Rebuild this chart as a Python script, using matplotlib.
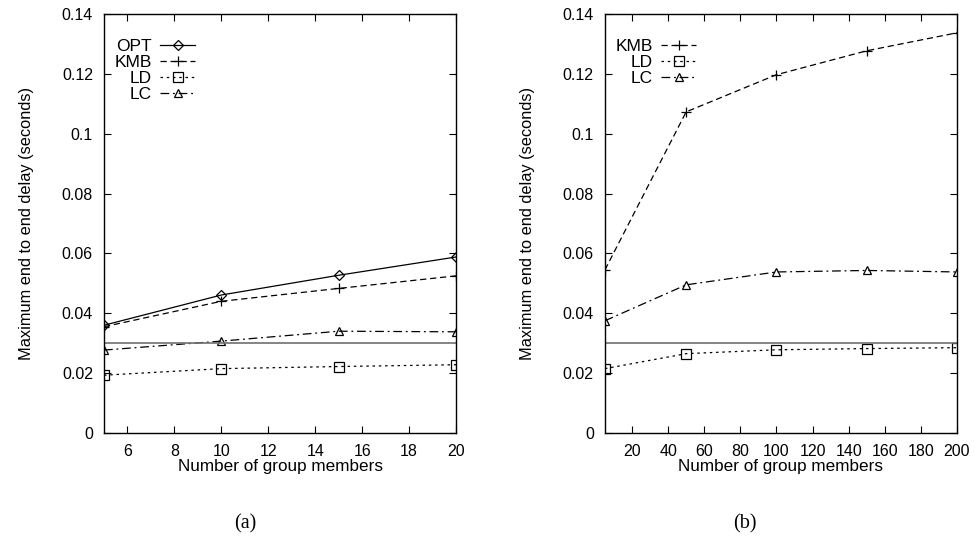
import numpy as np
import matplotlib
matplotlib.use("Agg")
import matplotlib.pyplot as plt

matplotlib.rcParams['font.family'] = ['Liberation Sans', 'DejaVu Sans']

# Data, panel (a)
xa = [5, 10, 15, 20]
opt_a = [0.0360, 0.0461, 0.0527, 0.0588]
kmb_a = [0.0355, 0.0440, 0.0483, 0.0525]
ld_a = [0.0193, 0.0215, 0.0222, 0.0228]
lc_a = [0.0277, 0.0307, 0.0340, 0.0338]

# Data, panel (b)
xb = [5, 50, 100, 150, 200]
kmb_b = [0.0545, 0.1073, 0.1197, 0.1277, 0.1337]
ld_b = [0.0215, 0.0265, 0.0278, 0.0282, 0.0285]
lc_b = [0.0375, 0.0495, 0.0538, 0.0543, 0.0538]

bound = 0.03  # delay bound

fig = plt.figure(figsize=(9.74, 5.48), dpi=100)
ax1 = fig.add_axes([0.1068, 0.2099, 0.3614, 0.7646])
ax2 = fig.add_axes([0.6211, 0.2099, 0.3614, 0.7646])

mk = dict(color='black', lw=0.9, markersize=6.5, markerfacecolor='none', markeredgewidth=0.9)

# panel (a)
ax1.plot(xa, opt_a, ls='-', marker='D', label='OPT', **{**mk, 'markersize': 5})
ax1.plot(xa, kmb_a, ls=(0, (5, 3)), marker='+', label='KMB', **mk)
ax1.plot(xa, ld_a, ls=(0, (2, 3)), marker='s', label='LD', **mk)
ax1.plot(xa, lc_a, ls=(0, (7, 3, 1.5, 3)), marker='^', label='LC', **{**mk, 'markersize': 5.5})
ax1.axhline(bound, color='#707070', lw=1.2)
ax1.set_xlim(5, 20)
ax1.set_xticks([6, 8, 10, 12, 14, 16, 18, 20])

# panel (b)
ax2.plot(xb, kmb_b, ls=(0, (5, 3)), marker='+', label='KMB', **mk)
ax2.plot(xb, ld_b, ls=(0, (2, 3)), marker='s', label='LD', **mk)
ax2.plot(xb, lc_b, ls=(0, (7, 3, 1.5, 3)), marker='^', label='LC', **{**mk, 'markersize': 5.5})
ax2.axhline(bound, color='#707070', lw=1.2)
ax2.set_xlim(5, 200)
ax2.set_xticks([20, 40, 60, 80, 100, 120, 140, 160, 180, 200])

for ax in (ax1, ax2):
    ax.set_ylim(0, 0.14)
    ax.set_yticks([0, 0.02, 0.04, 0.06, 0.08, 0.1, 0.12, 0.14])
    ax.set_yticklabels(['0', '0.02', '0.04', '0.06', '0.08', '0.1', '0.12', '0.14'])
    ax.tick_params(direction='in', length=5, width=0.8, top=True, right=True,
                   labelsize=11.5, pad=8)
    for s in ax.spines.values():
        s.set_linewidth(1.0)
    ax.set_xlabel('Number of group members', fontsize=12.3, labelpad=0)
    ax.set_ylabel('Maximum end to end delay (seconds)', fontsize=11.8, labelpad=20)
    ax.legend(loc='upper left', bbox_to_anchor=(-0.005, 0.97), frameon=False,
              markerfirst=False, fontsize=12.5, handlelength=2.0, handletextpad=0.5,
              labelspacing=0.05, borderaxespad=0.3)

fig.text(0.2515, 0.035, '(a)', family='Liberation Serif', fontsize=14.5, ha='center')
fig.text(0.765, 0.035, '(b)', family='Liberation Serif', fontsize=14.5, ha='center')

fig.savefig('out.png', dpi=100)
